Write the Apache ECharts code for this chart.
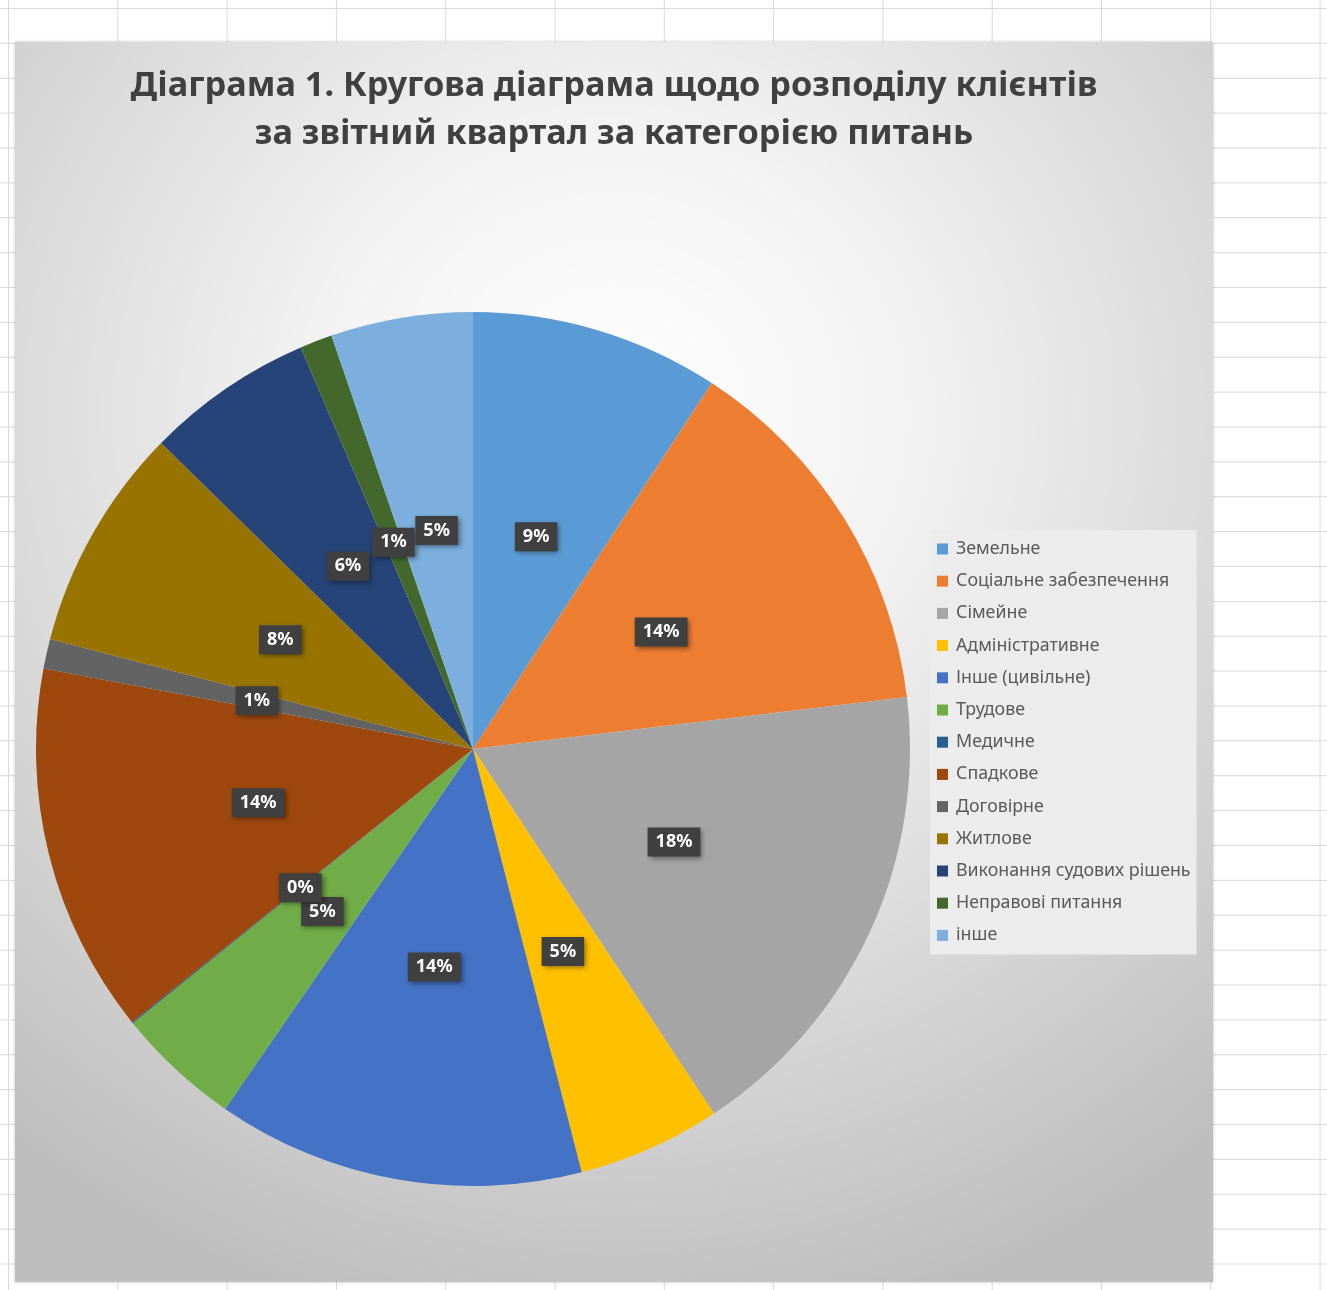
<!DOCTYPE html>
<html>
<head>
<meta charset="utf-8">
<script src="https://cdn.jsdelivr.net/npm/echarts@6/dist/echarts.min.js"></script>
<style>
html,body{margin:0;padding:0;width:1327px;height:1290px;overflow:hidden;background:#fff;}
#sheet{position:absolute;left:0;top:0;width:1327px;height:1290px;
 background-image:
  linear-gradient(to right, #d9d9d9 1px, transparent 1px),
  linear-gradient(to bottom, #d9d9d9 1px, transparent 1px);
 background-size:109.3px 34.89px;
 background-position:8px 8px;}
#chart{position:absolute;left:15px;top:42px;width:1198px;height:1240px;
 background:radial-gradient(ellipse 80% 75% at 50% 30%, #ffffff 0%, #f3f3f3 30%, #d9d9d9 65%, #bebebe 100%);
 box-shadow:0 0 3px rgba(0,0,0,0.25);}
</style>
</head>
<body>
<div id="sheet"></div>
<div id="chart"></div>
<script>
var titleLines = ['Діаграма 1. Кругова діаграма щодо розподілу клієнтів', 'за звітний квартал за категорією питань'];
var categories = ['Земельне','Соціальне забезпечення','Сімейне','Адміністративне','Інше (цивільне)','Трудове','Медичне','Спадкове','Договірне','Житлове','Виконання судових рішень','Неправові питання','інше'];
var values = [9.2, 13.9, 17.6, 5.3, 13.6, 4.6, 0.05, 13.7, 1.1, 8.3, 6.2, 1.2, 5.25];
var colors = ['#5B9BD5','#ED7D31','#A5A5A5','#FFC000','#4472C4','#70AD47','#255E91','#9E480E','#636363','#997300','#264478','#43682B','#7CAFDD'];

var chart = echarts.init(document.getElementById('chart'), null, {renderer:'canvas'});
var data = categories.map(function(c,i){return {name:c, value:values[i]};});
chart.setOption({
  backgroundColor:'transparent',
  color: colors,
  title:{
    text: titleLines.join('\n'),
    left: 594, top: 15,
    textAlign:'center',
    textStyle:{fontFamily:'Noto Sans', fontWeight:'bold', fontSize:34.3, color:'#404040', lineHeight:48}
  },
  legend:{
    orient:'vertical',
    left: 915, top: 488,
    itemWidth: 11, itemHeight: 11, itemGap: 14.2,
    icon:'rect',
    backgroundColor:'#ececec',
    padding:[10,6,10,7],
    textStyle:{fontFamily:'Noto Sans', fontSize:17.8, lineHeight:18, color:'#595959', padding:[0,0,0,3]},
    data: categories
  },
  series:[{
    type:'pie',
    center:[458, 707],
    radius: 437,
    startAngle: 90,
    clockwise: true,
    avoidLabelOverlap:false,
    minShowLabelAngle: 0,
    labelLayout:{hideOverlap:false},
    data: data,
    itemStyle:{borderWidth:0},
    label:{
      show:true,
      position:'inside',
      formatter:function(p){return Math.round(p.percent)+'%';},
      fontFamily:'Noto Sans', fontWeight:'bold', fontSize:18, color:'#ffffff',
      backgroundColor:'#404040',
      padding:[6,8,5,8],
      shadowColor:'rgba(0,0,0,0.45)', shadowBlur:5, shadowOffsetX:2, shadowOffsetY:2
    },
    labelLine:{show:false},
    emphasis:{disabled:true}
  }]
});
</script>
</body>
</html>
